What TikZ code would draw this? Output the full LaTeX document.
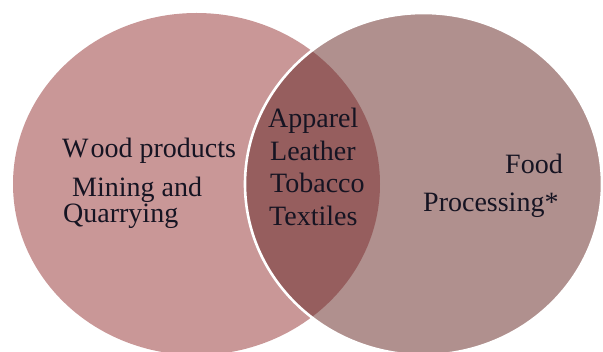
\documentclass[tikz,border=0pt]{standalone}
\usepackage{fontspec}
\setmainfont{Liberation Serif}
\definecolor{leftc}{RGB}{201,151,151}
\definecolor{rightc}{RGB}{176,144,142}
\definecolor{lensc}{RGB}{150,94,94}
\definecolor{txtc}{RGB}{22,20,34}
\tikzset{
  lbl/.style={inner sep=0pt, text=txtc, font=\fontsize{28}{33}\selectfont},
}
\begin{document}
\begin{tikzpicture}[x=1pt,y=-1pt]
\useasboundingbox (0,0) rectangle (603,352);
\coordinate (cl) at (196.5,184);
\coordinate (cr) at (423.5,184);
% left set
\fill[leftc] (cl) ellipse [x radius=183.5, y radius=171];
% right set
\fill[rightc] (cr) ellipse [x radius=178.5, y radius=171];
% overlap
\begin{scope}
  \clip (cl) ellipse [x radius=183.5, y radius=171];
  \fill[lensc] (cr) ellipse [x radius=178.5, y radius=171];
\end{scope}
\draw[white, line width=2.6pt] (cr) ellipse [x radius=178.5, y radius=171];
% labels
\node[lbl, anchor=base west] (wood) at (62,158) {W\kern2pt ood products};
\node[lbl, anchor=base west] (mining) at (72,197) {Mining and};
\node[lbl, anchor=base west] (quarry) at (63,223) {Quarrying};
\node[lbl, anchor=base west] (apparel) at (268,128) {Apparel};
\node[lbl, anchor=base west] (leather) at (270,161) {Leather};
\node[lbl, anchor=base west] (tobacco) at (270,193) {Tobacco};
\node[lbl, anchor=base west] (textiles) at (269,226) {Textiles};
\node[lbl, anchor=base east] (food) at (563,174) {Food};
\node[lbl, anchor=base west] (proc) at (423,212) {Processing*};
\end{tikzpicture}
\end{document}
